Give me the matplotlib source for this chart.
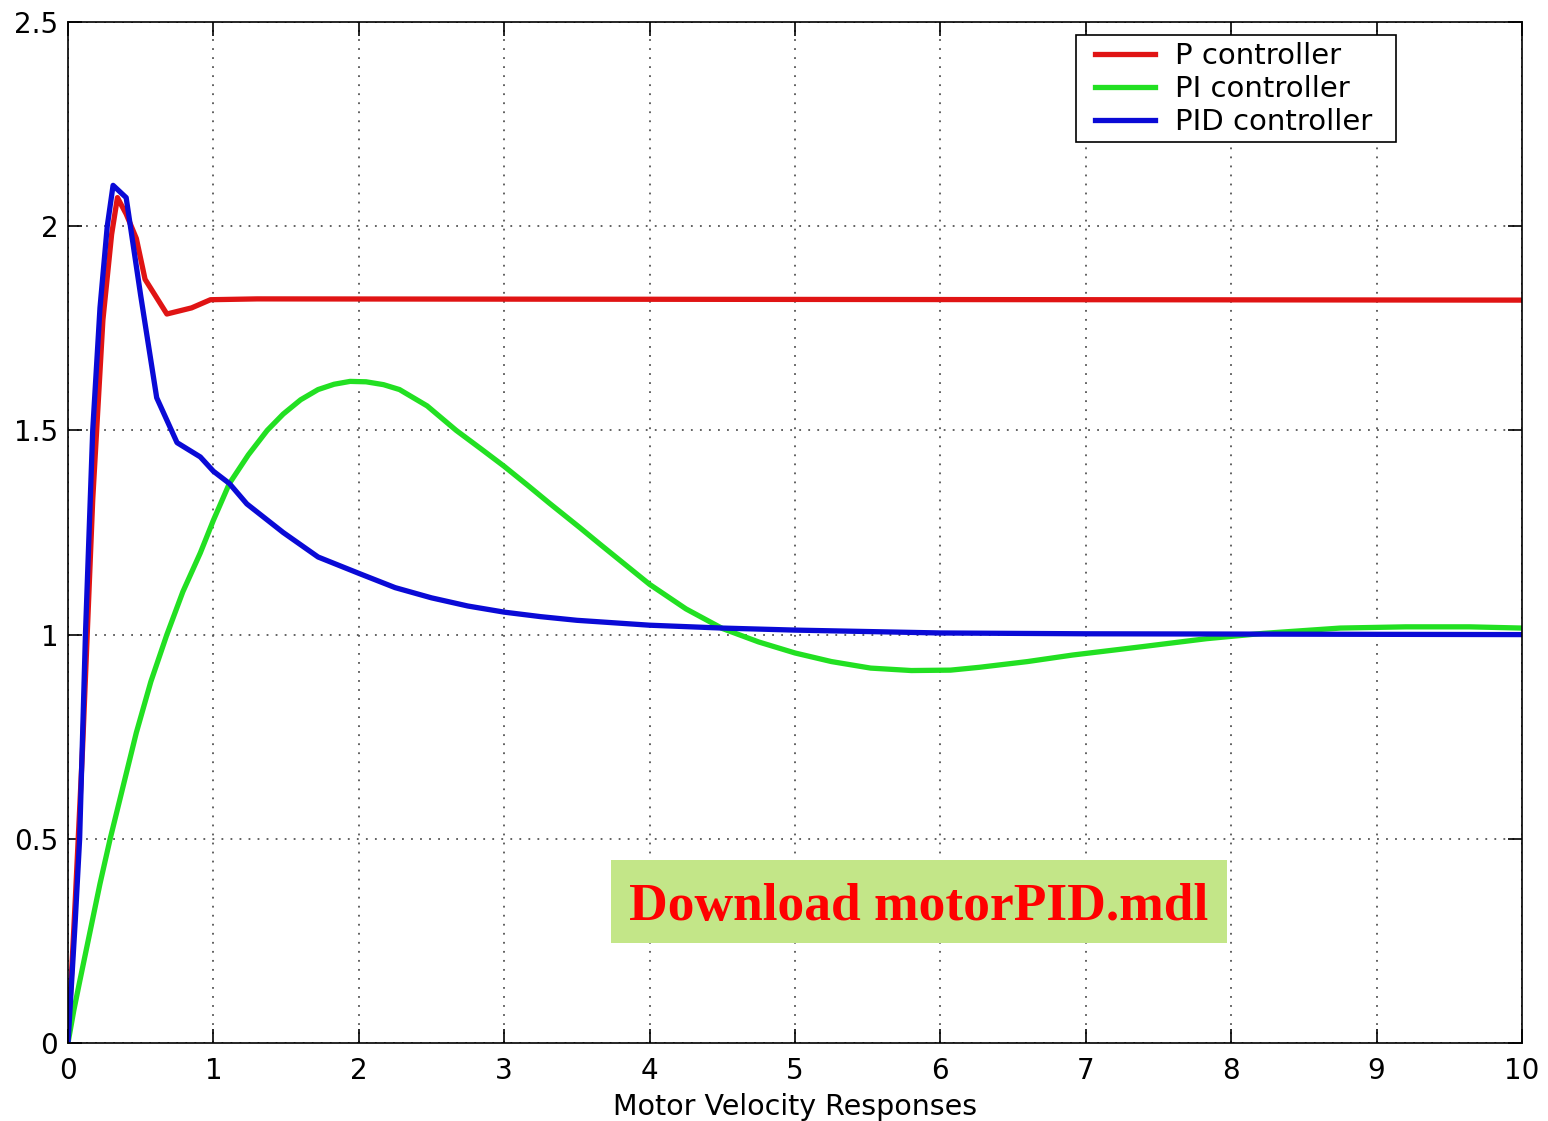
import matplotlib
matplotlib.use("Agg")
import matplotlib.pyplot as plt
from matplotlib.patches import Rectangle

# ---- data ----
p_t = [0.0, 0.05, 0.10, 0.17, 0.24, 0.30, 0.34, 0.40, 0.47, 0.53, 0.68, 0.85, 0.98, 1.3, 10.0]
p_y = [0.0, 0.35, 0.72, 1.33, 1.77, 1.98, 2.07, 2.03, 1.97, 1.87, 1.785, 1.80, 1.82, 1.822, 1.819]

pi_t = [0.0, 0.04, 0.08, 0.15, 0.22, 0.29, 0.38, 0.47, 0.57, 0.68, 0.79, 0.91, 1.0, 1.11, 1.24,
        1.37, 1.48, 1.60, 1.72, 1.83, 1.94, 2.05, 2.17, 2.28, 2.47, 2.67, 2.84, 3.0, 3.16, 3.31,
        3.52, 3.66, 3.83, 4.0, 4.25, 4.5, 4.75, 5.0, 5.25, 5.52, 5.8, 6.07, 6.27, 6.6, 6.91,
        7.4, 7.83, 8.22, 8.75, 9.2, 9.64, 10.0]
pi_y = [0.0, 0.08, 0.15, 0.27, 0.39, 0.50, 0.63, 0.76, 0.885, 1.0, 1.105, 1.20, 1.28, 1.37, 1.44,
        1.50, 1.54, 1.575, 1.60, 1.613, 1.62, 1.619, 1.612, 1.600, 1.56, 1.50, 1.455, 1.412, 1.366, 1.322,
        1.262, 1.221, 1.172, 1.123, 1.063, 1.015, 0.982, 0.955, 0.934, 0.918, 0.912, 0.913, 0.92, 0.934, 0.95,
        0.971, 0.99, 1.003, 1.016, 1.019, 1.019, 1.016]

pid_t = [0.0, 0.05, 0.08, 0.12, 0.17, 0.22, 0.27, 0.31, 0.40, 0.50, 0.61, 0.75, 0.91, 1.0, 1.11,
         1.23, 1.48, 1.72, 2.0, 2.25, 2.5, 2.75, 3.0, 3.25, 3.5, 4.0, 4.5, 5.0, 6.0, 7.0, 10.0]
pid_y = [0.0, 0.30, 0.50, 1.0, 1.5, 1.80, 2.0, 2.10, 2.07, 1.83, 1.58, 1.47, 1.435, 1.40, 1.37,
         1.32, 1.25, 1.19, 1.15, 1.115, 1.09, 1.07, 1.055, 1.044, 1.035, 1.023, 1.016, 1.011, 1.004, 1.002, 1.0]

labels = ["P controller", "PI controller", "PID controller"]
colors = ["#e01414", "#22e022", "#0a0ad6"]
xticks = [0, 1, 2, 3, 4, 5, 6, 7, 8, 9, 10]
yticks = [0, 0.5, 1, 1.5, 2, 2.5]
ytick_labels = ["0", "0.5", "1", "1.5", "2", "2.5"]
xlabel = "Motor Velocity Responses"
banner = "Download motorPID.mdl"

plt.rcParams['font.family'] = ['DejaVu Sans']

W, H = 1548, 1121
fig = plt.figure(figsize=(W/100, H/100), dpi=100)
L, R, T, B = 68, 1522, 22, 1043
ax = fig.add_axes([L/W, 1-B/H, (R-L)/W, (B-T)/H])

def ax_x(px):
    return (px - L) / (R - L)

def ax_y(py):
    return (B - py) / (B - T)

for t, y, lab, c in zip([p_t, pi_t, pid_t], [p_y, pi_y, pid_y], labels, colors):
    ax.plot(t, y, color=c, lw=3.8, label=lab, solid_joinstyle='round')

ax.set_xlim(0, 10)
ax.set_ylim(0, 2.5)
ax.set_xticks(xticks)
ax.set_yticks(yticks)
ax.set_yticklabels(ytick_labels)
ax.tick_params(direction='in', length=10, width=1.2, labelsize=20, top=True, right=True,
               colors='black')
ax.tick_params(axis='x', pad=10)
ax.tick_params(axis='y', pad=7)
ax.grid(True, linestyle=(0, (1, 4)), color='#555555', linewidth=1.3)
for s in ax.spines.values():
    s.set_linewidth(1.2)
ax.set_xlabel(xlabel, fontsize=20.5, labelpad=6)

# legend frame (drawn as a box) and entries
ax.add_patch(Rectangle((ax_x(1076), ax_y(142)), ax_x(1396) - ax_x(1076), ax_y(35) - ax_y(142),
                       transform=ax.transAxes, facecolor='white', edgecolor='black',
                       linewidth=1.2, zorder=4))
leg = ax.legend(loc='upper left', bbox_to_anchor=(ax_x(1095), ax_y(42)),
                borderaxespad=0, borderpad=0, fontsize=21, frameon=False,
                handlelength=2.05, handletextpad=0.68, labelspacing=0.18)
leg.set_zorder(5)

# banner
fig.patches.append(Rectangle((611/W, 1-943/H), 616/W, 83/H,
                             transform=fig.transFigure, facecolor='#c3e688',
                             edgecolor='none', zorder=5))
fig.text(919/W, 1-907/H, banner, ha='center', va='center', color='#ff0000',
         fontsize=38.5, fontweight='bold', family=['Liberation Serif', 'DejaVu Serif'], zorder=6)

fig.savefig("out.png", dpi=100)
